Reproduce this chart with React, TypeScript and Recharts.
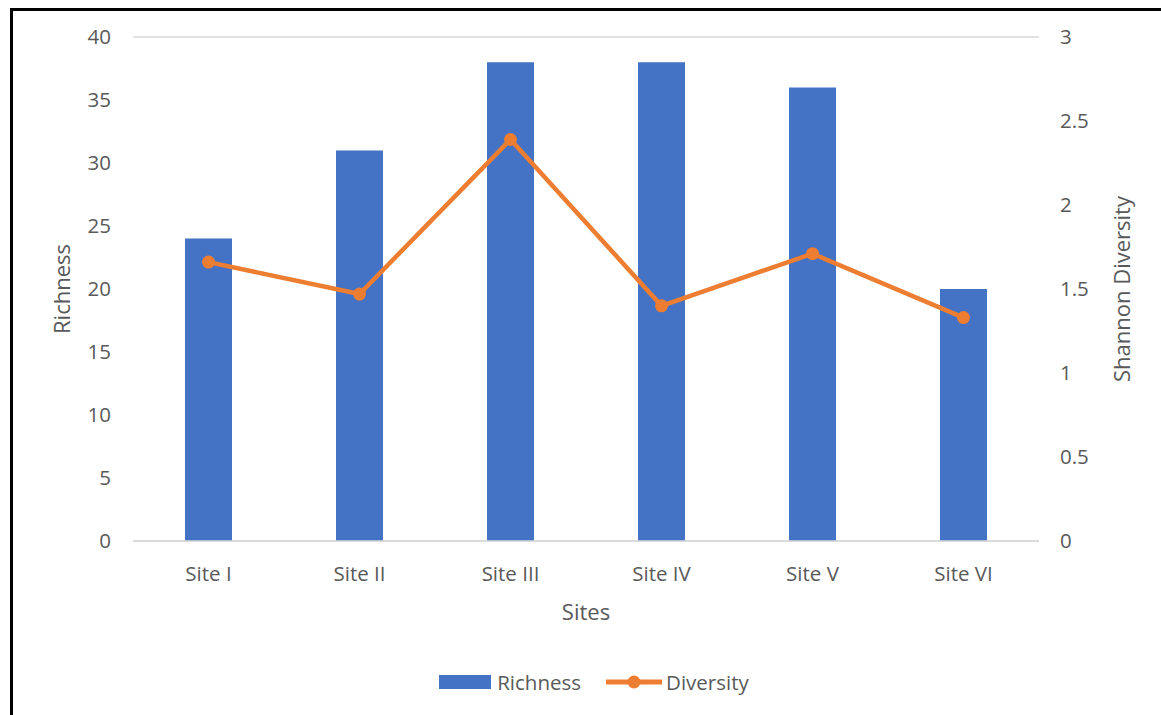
import React from "react";
import {
  Bar,
  CartesianGrid,
  ComposedChart,
  Legend,
  Line,
  XAxis,
  YAxis,
} from "recharts";

const SITES = ["Site I", "Site II", "Site III", "Site IV", "Site V", "Site VI"];
const RICHNESS = [24, 31, 38, 38, 36, 20];
const DIVERSITY = [1.66, 1.47, 2.39, 1.4, 1.71, 1.33];
const RICHNESS_TICKS = [0, 5, 10, 15, 20, 25, 30, 35, 40];
const DIVERSITY_TICKS = [0, 0.5, 1, 1.5, 2, 2.5, 3];

const data = SITES.map((site, i) => ({
  site,
  richness: RICHNESS[i],
  diversity: DIVERSITY[i],
}));

const FONT = "'Open Sans', sans-serif";
const TEXT = "#595959";
const BLUE = "#4472c4";
const ORANGE = "#ed7d31";

const tickStyle = { fill: TEXT, fontSize: 20.5, fontFamily: FONT };
const titleStyle = { fill: TEXT, fontSize: 22, fontFamily: FONT };

function ChartLegend() {
  return (
    <div
      style={{
        height: 30,
        display: "flex",
        justifyContent: "center",
        alignItems: "center",
        paddingLeft: 27,
        fontFamily: FONT,
        fontSize: 20.5,
        color: TEXT,
      }}
    >
      <span
        style={{
          width: 52,
          height: 14,
          background: BLUE,
          marginRight: 6,
          display: "inline-block",
        }}
      />
      <span style={{ marginRight: 25 }}>Richness</span>
      <svg width={56} height={16} style={{ marginRight: 4 }}>
        <line x1={0} y1={8} x2={56} y2={8} stroke={ORANGE} strokeWidth={5} strokeLinecap="round" />
        <circle cx={28} cy={8} r={6.5} fill={ORANGE} />
      </svg>
      <span>Diversity</span>
    </div>
  );
}

export default function App() {
  return (
    <div
      style={{
        position: "absolute",
        left: 0,
        top: 0,
        width: 1161,
        height: 715,
        overflow: "hidden",
        background: "#fff",
      }}
    >
      <style>{"body{margin:0}"}</style>
      <div
        style={{
          position: "absolute",
          left: 10,
          top: 8,
          width: 1200,
          height: 760,
          borderLeft: "3px solid #000",
          borderTop: "3px solid #000",
        }}
      />
      <div style={{ position: "absolute", left: 0, top: 0 }}>
        <ComposedChart
          width={1161}
          height={715}
          data={data}
          margin={{ top: 37, right: 0, left: 0, bottom: 18 }}
          barCategoryGap={0}
        >
          <CartesianGrid vertical={false} stroke="#d9d9d9" strokeWidth={1.5} />

          <XAxis
            dataKey="site"
            height={126}
            tickLine={false}
            tickSize={0}
            tickMargin={25}
            stroke="#d9d9d9"
            strokeWidth={1.5}
            tick={tickStyle}
            label={{
              value: "Sites",
              position: "insideTop",
              offset: 63,
              style: titleStyle,
            }}
          />

          <YAxis
            yAxisId="left"
            width={133}
            domain={[0, 40]}
            ticks={RICHNESS_TICKS}
            axisLine={false}
            tickLine={false}
            tickSize={0}
            tickMargin={22}
            tick={tickStyle}
            label={{
              value: "Richness",
              angle: -90,
              position: "center",
              dx: -4,
              style: titleStyle,
            }}
          />

          <YAxis
            yAxisId="right"
            orientation="right"
            width={122}
            domain={[0, 3]}
            ticks={DIVERSITY_TICKS}
            axisLine={false}
            tickLine={false}
            tickSize={0}
            tickMargin={21}
            tick={tickStyle}
            label={{
              value: "Shannon Diversity",
              angle: -90,
              position: "center",
              dx: 22,
              style: titleStyle,
            }}
          />

          <Legend verticalAlign="bottom" content={<ChartLegend />} />

          <Bar
            yAxisId="left"
            dataKey="richness"
            name="Richness"
            fill={BLUE}
            barSize={47}
            isAnimationActive={false}
          />

          <Line
            yAxisId="right"
            dataKey="diversity"
            name="Diversity"
            stroke={ORANGE}
            strokeWidth={4.5}
            dot={{ r: 6.5, fill: ORANGE, stroke: ORANGE, strokeWidth: 0 }}
            activeDot={false}
            isAnimationActive={false}
          />
        </ComposedChart>
      </div>
    </div>
  );
}
